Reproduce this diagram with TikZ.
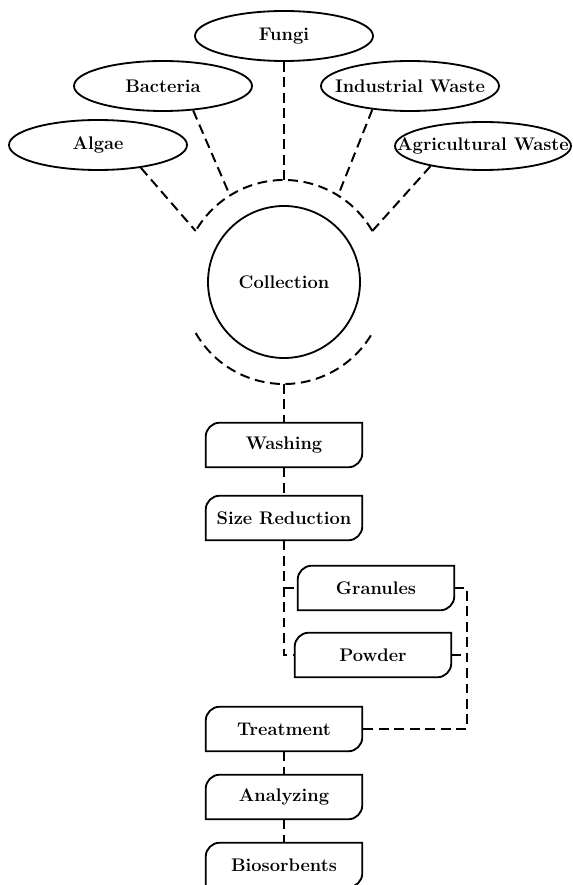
\documentclass[tikz,border=0pt]{standalone}
\usepackage{fontspec}
\usetikzlibrary{shapes.geometric}

\begin{document}
\begin{tikzpicture}[
  lbl/.style={font=\fontsize{13}{15}\selectfont\bfseries},
  src/.style={ellipse, draw, line width=1.3pt, minimum width=4.45cm, minimum height=1.25cm, inner sep=0pt, lbl},
  stage/.style={minimum width=3.9cm, minimum height=1.1cm, inner sep=0pt, lbl},
  outline/.style={line width=1.3pt},
  dashline/.style={line width=1.4pt, dash pattern=on 7pt off 4pt}
]
\useasboundingbox (0,0) rectangle (14.325,22.125);

\node[src] (fungi) at (7.1,21.225) {\makebox[0pt]{Fungi}};
\node[src] (bact) at (4.075,19.975) {\makebox[0pt]{Bacteria}};
\node[src] (indus) at (10.25,19.975) {\makebox[0pt]{Industrial Waste}};
\node[src] (algae) at (2.45,18.5) {\makebox[0pt]{Algae}};
\node[src,minimum width=4.4cm,minimum height=1.2cm] (agri) at (12.075,18.475) {\makebox[0pt]{Agricultural Waste}};

\node[circle, draw, outline, minimum size=3.8cm, lbl] (coll) at (7.1,15.075) {Collection};

\draw[dashline] ([shift={(30:2.55cm)}]coll.center) arc[start angle=30, end angle=150, radius=2.55cm];
\draw[dashline] ([shift={(210:2.55cm)}]coll.center) arc[start angle=210, end angle=330, radius=2.55cm];
\coordinate (inA) at ([shift={(150:2.55cm)}]coll.center);
\coordinate (inB) at ([shift={(122:2.55cm)}]coll.center);
\coordinate (inF) at ([shift={(90:2.55cm)}]coll.center);
\coordinate (inI) at ([shift={(58:2.55cm)}]coll.center);
\coordinate (inW) at ([shift={(30:2.55cm)}]coll.center);
\coordinate (out) at ([shift={(270:2.55cm)}]coll.center);

\draw[dashline] (algae.-28)--(inA);
\draw[dashline] (bact.-39)--(inB);
\draw[dashline] (fungi.south)--(inF);
\draw[dashline] (indus.212)--(inI);
\draw[dashline] (agri.201)--(inW);

\node[stage] (wash) at (7.1,11.0) {Washing};
\node[stage] (sizered) at (7.1,9.175) {Size Reduction};
\node[stage] (gran) at (9.4,7.425) {Granules};
\node[stage] (powd) at (9.325,5.75) {Powder};
\node[stage] (treat) at (7.1,3.9) {Treatment};
\node[stage] (anal) at (7.1,2.2) {Analyzing};
\node[stage] (bios) at (7.1,0.5) {Biosorbents};

\foreach \n in {wash,sizered,gran,powd,treat,anal,bios}
  \draw[outline] ([xshift=0.35cm]\n.north west) -- (\n.north east) -- ([yshift=0.35cm]\n.south east)
    arc[start angle=0, end angle=-90, radius=0.35cm] -- (\n.south west) -- ([yshift=-0.35cm]\n.north west)
    arc[start angle=180, end angle=90, radius=0.35cm] -- cycle;

\coordinate (bus) at (11.675,7.425);

\draw[dashline] (out)--(wash.north);
\draw[dashline] (wash.south)--(sizered.north);
\draw[dashline] (sizered.south)--(sizered.south |- powd.west)--(powd.west);
\draw[dashline] (sizered.south |- gran.west)--(gran.west);
\draw[dashline] (gran.east)--(gran.east -| bus)|-(treat.east);
\draw[dashline] (powd.east)--(powd.east -| bus);
\draw[dashline] (treat.south)--(anal.north);
\draw[dashline] (anal.south)--(bios.north);

\end{tikzpicture}
\end{document}
